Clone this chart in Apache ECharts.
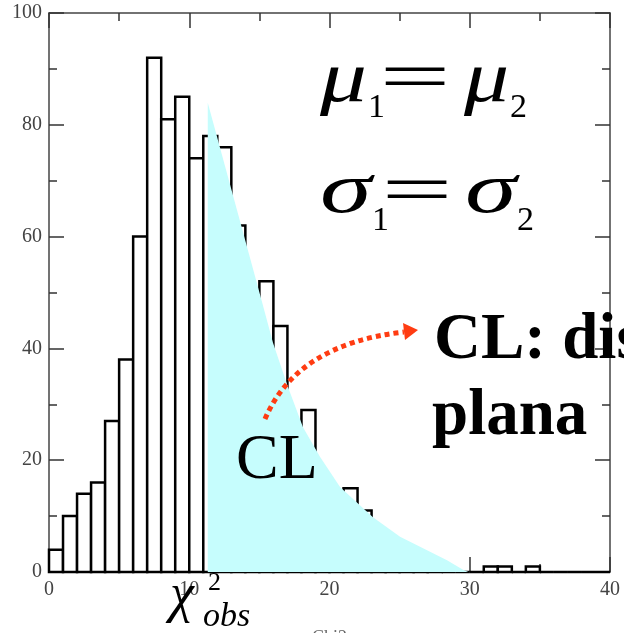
<!DOCTYPE html>
<html><head><meta charset="utf-8">
<script src="https://cdn.jsdelivr.net/npm/echarts@6/dist/echarts.min.js"></script>
<style>html,body{margin:0;padding:0;background:#fff}#c{width:624px;height:633px}</style>
</head><body><div id="c"></div>
<script>
// Histogram bins (width 1, start at bin index)
const binStarts = [0,1,2,3,4,5,6,7,8,9,10,11,12,13,14,15,16,17,18,19,20,21,22,23,24,25,26,27,28,29,30,31,32,33,34,35,36,37,38,39];
const binCounts = [4,10,14,16,27,38,60,92,81,85,74,78,76,62,48,52,44,24,29,16,13,15,11,7,5,4,2,1,0,0,0,1,1,0,1,0,0,0,0,0];
// Shaded CL tail region (chi2 > chi2_obs)
const tailX = [11.32,11.32,15.19,15.97,17.04,18.11,19.32,20.75,23.1,25.03,28.38,29.52,29.9];
const tailY = [0,83.95,48.3,41.0,33.1,25.9,20.6,15.2,9.8,6.3,2.1,0.4,0];
const xTickLabels = ['0','10','20','30','40'];
const yTickLabels = ['0','20','40','60','80','100'];

const SERIF = "'Liberation Serif','Times New Roman',serif";
const axisCol = '#444';
const tickStyle = {color:'#333', width:1.5};

function makeAxis(pos, isX, showLabel){
  const ax = {
    type:'value', position:pos,
    min:0, max: isX ? 40 : 100, interval: isX ? 10 : 20,
    axisLine:{show:true, onZero:false, lineStyle:{color:axisCol, width:1.5}},
    axisTick:{show:true, inside:true, length:15, lineStyle:tickStyle},
    minorTick:{show:true, splitNumber:2, length:8, lineStyle:tickStyle},
    splitLine:{show:false}, minorSplitLine:{show:false},
    axisLabel:{show:showLabel, fontFamily:SERIF, fontSize:20, color:'#444',
      margin: isX ? 8 : 7, showMinLabel:true, showMaxLabel:true,
      formatter: v => {
        const arr = isX ? xTickLabels : yTickLabels;
        const idx = Math.round(v / (isX ? 10 : 20));
        return arr[idx] !== undefined ? arr[idx] : '';
      }}
  };
  return ax;
}

const xBottom = makeAxis('bottom', true, true);
xBottom.name = 'Chi2';
xBottom.nameLocation = 'middle';
xBottom.nameGap = 57;
xBottom.nameTextStyle = {fontFamily:SERIF, fontSize:18, color:'#666'};
const xTop = makeAxis('top', true, false);
const yLeft = makeAxis('left', false, true);
const yRight = makeAxis('right', false, false);

const chart = echarts.init(document.getElementById('c'), null, {renderer:'canvas'});

function txt(text, x, y, size, opts){
  opts = opts || {};
  return {
    type:'text', x:x, y:y, z:100, scaleX: opts.scaleX || 1,
    style:{text:text, x:0, y:0, fontFamily:SERIF, fontSize:size,
      fontStyle: opts.italic ? 'italic' : 'normal',
      fontWeight: opts.bold ? 'bold' : 'normal',
      fill:'#000', align: opts.align || 'left', verticalAlign:'middle'}
  };
}

const option = {
  animation:false,
  backgroundColor:'#fff',
  grid:{left:49, right:14, top:13, bottom:61, containLabel:false, outerBoundsMode:'none'},
  xAxis:[xBottom, xTop],
  yAxis:[yLeft, yRight],
  series:[
    {
      type:'custom', xAxisIndex:0, yAxisIndex:0, z:2,
      data: binStarts.map((s,i)=>[s, binCounts[i]]),
      renderItem:(params, api)=>{
        const x0 = api.value(0), v = api.value(1);
        const p0 = api.coord([x0, 0]);
        const p1 = api.coord([x0 + 1, v]);
        return {type:'rect',
          shape:{x:p0[0], y:p1[1], width:p1[0]-p0[0], height:p0[1]-p1[1]},
          style:{fill:'#fff', stroke:'#000', lineWidth:2.5}};
      }
    },
    {
      type:'line', xAxisIndex:0, yAxisIndex:0, z:3,
      data: tailX.map((x,i)=>[x, tailY[i]]),
      symbol:'none', smooth:false,
      lineStyle:{width:0, color:'#c6fdfd'},
      areaStyle:{color:'#c6fdfd', opacity:1}
    }
  ],
  graphic:[
    // mu1 = mu2
    txt('\u03bc', 320, 82, 72, {italic:true, scaleX:1.3}),
    txt('1', 368, 108, 34),
    txt('=', 415, 82, 70, {align:'center', scaleX:1.8}),
    txt('\u03bc', 464, 82, 72, {italic:true, scaleX:1.25}),
    txt('2', 510, 108, 34),
    // sigma1 = sigma2
    txt('\u03c3', 320, 193, 72, {italic:true, scaleX:1.45}),
    txt('1', 372, 221, 34),
    txt('=', 417, 195, 70, {align:'center', scaleX:1.8}),
    txt('\u03c3', 465, 193, 72, {italic:true, scaleX:1.45}),
    txt('2', 517, 221, 34),
    // CL labels
    txt('CL', 236, 461, 64),
    txt('CL: distribuci\u00f3n', 434, 341, 65, {bold:true}),
    txt('plana', 432, 417, 65, {bold:true}),
    // chi2 obs
    txt('\u03c7', 170, 597, 54, {italic:true}),
    txt('obs', 203, 617, 34, {italic:true}),
    txt('2', 208, 583, 26),
    // dotted arrow
    {type:'bezierCurve', z:100,
      shape:{x1:265, y1:419, cpx1:297, cpy1:344, x2:404, y2:332},
      style:{stroke:'#ff3c12', lineWidth:5, lineDash:[5,4], fill:null}},
    {type:'polygon', z:100,
      shape:{points:[[418,330],[403,323],[405,340]]},
      style:{fill:'#ff3c12'}}
  ]
};
chart.setOption(option);
</script>
</body></html>
